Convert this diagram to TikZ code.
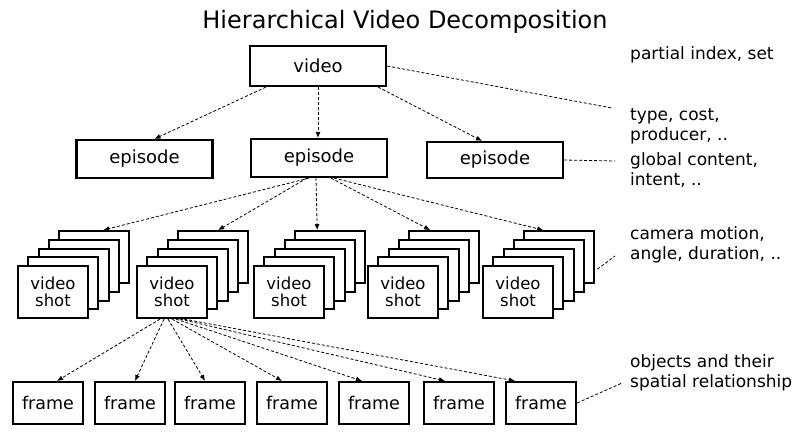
\documentclass[tikz,border=0pt]{standalone}
\usepackage{fontspec}
\setmainfont{DejaVu Sans}
\usetikzlibrary{arrows.meta,calc}
\begin{document}
\begin{tikzpicture}[x=1pt,y=-1pt,
  box/.style={draw,line width=2.2pt,fill=white,inner sep=0pt,minimum width=136pt,minimum height=38pt,font=\fontsize{18}{18}\selectfont},
  shotbox/.style={draw,line width=2.2pt,fill=white,inner sep=0pt,minimum width=70pt,minimum height=52pt,align=center,font=\fontsize{16.5}{16.5}\selectfont},
  framebox/.style={draw,line width=2.2pt,fill=white,inner sep=0pt,minimum width=70pt,minimum height=42pt,font=\fontsize{17.5}{17.5}\selectfont},
  conn/.style={draw,line width=0.8pt,dash pattern=on 3pt off 2pt,-{Latex[length=6pt,width=5pt]}},
  lead/.style={draw,line width=0.8pt,dash pattern=on 3pt off 2pt},
  lbl/.style={anchor=west,align=left,inner sep=0pt,font=\fontsize{17}{20}\selectfont}]
\useasboundingbox (0,0) rectangle (808,432);

\node (title) at (405,22) {\fontsize{24}{24}\selectfont Hierarchical Video Decomposition};

\node[box,minimum height=40pt] (video) at (318,66) {video};
\node[box] (ep1) at (144.5,159) {episode};
\node[box] (ep2) at (319,158) {episode};
\node[box,minimum height=36pt] (ep3) at (495,160) {episode};

\foreach \i/\L in {1/18,2/137,3/254,4/368,5/483}{
  \foreach \k in {4,3,2,1}{
    \node[shotbox] (shot\i-\k) at ({\L+35+10.3*\k},{292-8.7*\k}) {};
  }
  \node[shotbox] (shot\i) at ({\L+35},292) {video\\shot};
}

\foreach \i/\x in {1/48,2/130,3/210,4/292,5/374,6/459,7/541}{
  \node[framebox] (frame\i) at (\x,403) {frame};
}

% labels
\node[lbl] (l0) at (630,55) {partial index, set};
\node[lbl] (l1) at (630,126) {type, cost,\\producer, ..};
\node[lbl] (l2) at (630,170) {global content,\\intent, ..};
\node[lbl] (l3) at (630,245) {camera motion,\\angle, duration, ..};
\node[lbl] (l4) at (630,373) {objects and their\\spatial relationship};

\coordinate (e1) at (612,108);
\coordinate (e2) at (615,161);
\coordinate (e3) at (615,256);
\coordinate (e4) at (622,383);

% video -> episodes
\draw[conn] ($(video.south west)+(17,0)$) -- ($(ep1.north)+(10,0)$);
\draw[conn] (video.south) -- (video.south |- ep2.north);
\draw[conn] ($(video.south east)+(-9,0)$) -- ($(ep3.north)+(-13,0)$);

% episode -> shots
\draw[conn] ($(ep2.south)+(-10,0)$) -- ($(shot1-4.north)+(9,0)$);
\draw[conn] ($(ep2.south)+(-12,0)$) -- ($(shot2-4.north)+(5,0)$);
\draw[conn] ($(ep2.south)+(-3,0)$) -- ($(shot3-4.north)+(-13,0)$);
\draw[conn] ($(ep2.south)+(12,0)$) -- ($(shot4-4.north)+(-14,0)$);
\draw[conn] ($(ep2.south)+(15,0)$) -- ($(shot5-4.north)+(-16,0)$);

% shot -> frames
\draw[conn] ($(shot2.south)+(-12,0)$) -- ($(frame1.north)+(9,0)$);
\draw[conn] ($(shot2.south)+(-8,0)$) -- ($(frame2.north)+(5,0)$);
\draw[conn] ($(shot2.south)+(-4,0)$) -- ($(frame3.north)+(-5,0)$);
\draw[conn] ($(shot2.south)+(0,0)$) -- ($(frame4.north)+(-10,0)$);
\draw[conn] ($(shot2.south)+(4,0)$) -- ($(frame5.north)+(-12,0)$);
\draw[conn] ($(shot2.south)+(8,0)$) -- ($(frame6.north)+(-14,0)$);
\draw[conn] ($(shot2.south)+(12,0)$) -- ($(frame7.north)+(-26,0)$);

% leaders to annotations
\draw[lead] (video.east) -- (e1);
\draw[lead] (ep3.east) -- (e2);
\draw[lead] ($(shot5-4.east)+(2,12)$) -- (e3);
\draw[lead] (frame7.east) -- (e4);
\end{tikzpicture}
\end{document}
